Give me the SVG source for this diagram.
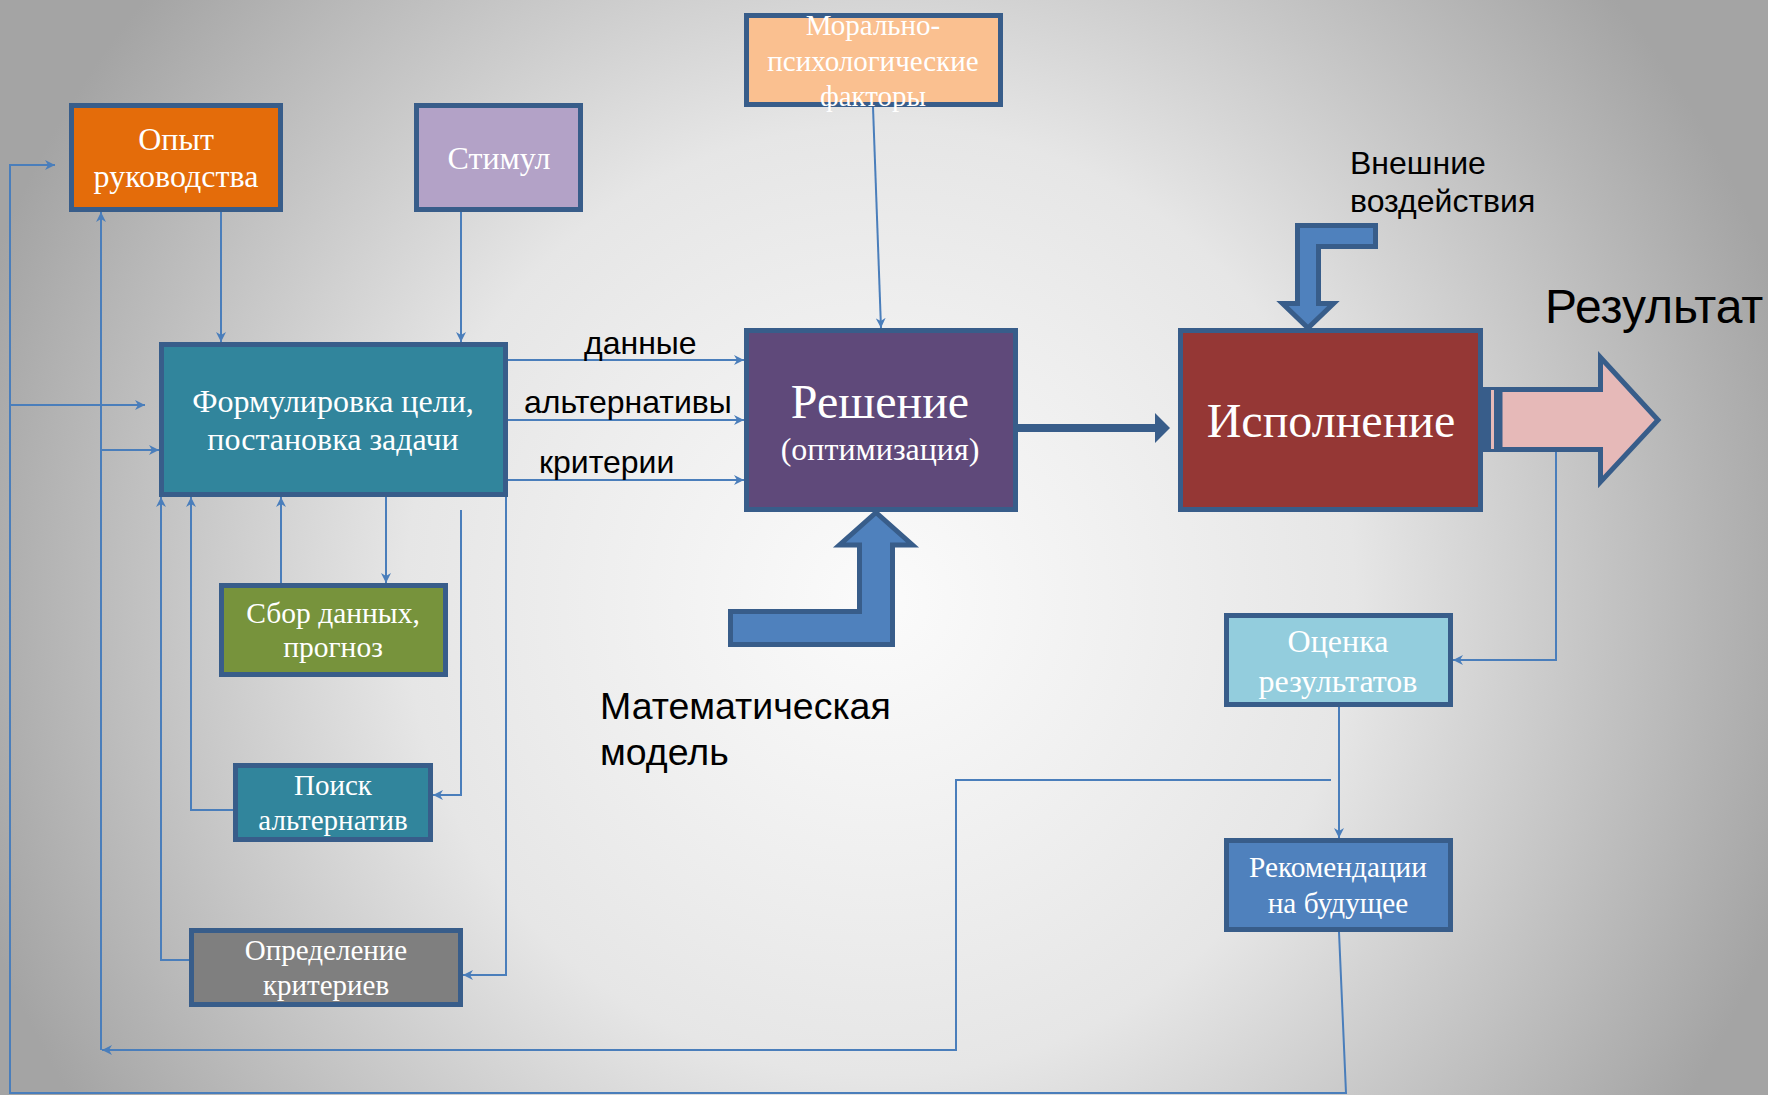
<svg xmlns="http://www.w3.org/2000/svg" width="1768" height="1095" viewBox="0 0 1768 1095">
  <defs>
    <radialGradient id="bg" gradientUnits="userSpaceOnUse" cx="880" cy="600" r="950">
      <stop offset="0" stop-color="#fbfbfb"/>
      <stop offset="0.5" stop-color="#e6e6e6"/>
      <stop offset="1" stop-color="#a4a4a4"/>
    </radialGradient>
    <marker id="arr" viewBox="0 0 10 10" refX="10" refY="5" markerWidth="10" markerHeight="10" markerUnits="userSpaceOnUse" orient="auto">
      <path d="M0,0 L10,5 L0,10 L3,5 Z" fill="#4a7ebb"/>
    </marker>
    <style>
      .box { stroke: #385d8a; stroke-width: 5; }
      .bt { font-family: "Liberation Serif", "Times New Roman", serif; fill: #ffffff; text-anchor: middle; }
      .lbl { font-family: "Liberation Sans", Arial, sans-serif; fill: #000000; }
      .cn { fill: none; stroke: #4a7ebb; stroke-width: 2; }
      .cna { fill: none; stroke: #4a7ebb; stroke-width: 2; marker-end: url(#arr); }
      .big { fill: #4f81bd; stroke: #385d8a; stroke-width: 5; stroke-linejoin: miter; }
    </style>
  </defs>

  <rect x="0" y="0" width="1768" height="1095" fill="url(#bg)"/>

  <!-- connectors -->
  <g id="connectors">
    <path class="cna" d="M221,212 V342"/>
    <path class="cna" d="M461,212 V342"/>
    <path class="cna" d="M873,107 L881,328"/>
    <path class="cna" d="M508,360 H744"/>
    <path class="cna" d="M508,420 H744"/>
    <path class="cna" d="M508,480 H744"/>
    <path class="cna" d="M386,497 V583"/>
    <path class="cna" d="M281,583 V497"/>
    <path class="cna" d="M461,510 V795 H433"/>
    <path class="cna" d="M233,810 H191 V497"/>
    <path class="cna" d="M506,497 V975 H463"/>
    <path class="cna" d="M189,960 H161 V497"/>
    <path class="cna" d="M1556,450 V660 H1453"/>
    <path class="cna" d="M1339,707 V838"/>
    <!-- feedback loop from evaluation -->
    <path class="cna" d="M1331,780 H956 V1050 H102"/>
    <path class="cna" d="M101,1050 V212"/>
    <path class="cna" d="M101,450 H159"/>
    <!-- feedback loop from recommendations -->
    <path class="cna" d="M1339,932 L1346,1093 H10 V165 H55"/>
    <path class="cna" d="M10,405 H145"/>
    <!-- decision to execution -->
    <path d="M1018,428 H1158" stroke="#385d8a" stroke-width="8" fill="none"/>
    <path d="M1155,413 L1170,428 L1155,443 Z" fill="#385d8a"/>
  </g>

  <!-- block arrows -->
  <g id="external-arrow">
    <path class="big" d="M1297.5,225.5 H1375.5 V246.5 H1318.5 V303.5 H1333.5 L1308,328 L1282.5,303.5 H1297.5 Z"/>
  </g>
  <g id="model-arrow">
    <path class="big" d="M730.5,611.5 H859.5 V545 H839.5 L876,512.5 L912.5,545 H892.5 V644.5 H730.5 Z"/>
  </g>
  <g id="result-arrow">
    <rect x="1483" y="387" width="19" height="65" fill="#385d8a"/>
    <rect x="1491" y="390" width="3" height="59" fill="#e6b9b8"/>
    <path d="M1500,389.5 H1600.5 V357.5 L1658,420 L1600.5,482 V449.5 H1500 Z" fill="#e6b9b8" stroke="#385d8a" stroke-width="5"/>
  </g>

  <!-- nodes -->
  <g id="opyt">
    <rect class="box" x="71.5" y="105.5" width="209" height="104" fill="#e46c0a"/>
    <text class="bt" x="176" y="150" font-size="32">Опыт</text>
    <text class="bt" x="176" y="187" font-size="32">руководства</text>
  </g>
  <g id="stimul">
    <rect class="box" x="416.5" y="105.5" width="164" height="104" fill="#b3a2c7"/>
    <text class="bt" x="499" y="169" font-size="32">Стимул</text>
  </g>
  <g id="moral">
    <rect class="box" x="746.5" y="15.5" width="254" height="89" fill="#fac090"/>
    <text class="bt" x="873" y="35" font-size="29">Морально-</text>
    <text class="bt" x="873" y="71" font-size="29">психологические</text>
    <text class="bt" x="873" y="106" font-size="29">факторы</text>
  </g>
  <g id="formulirovka">
    <rect class="box" x="161.5" y="344.5" width="344" height="150" fill="#31859c"/>
    <text class="bt" x="333" y="412" font-size="32">Формулировка цели,</text>
    <text class="bt" x="333" y="450" font-size="32">постановка задачи</text>
  </g>
  <g id="reshenie">
    <rect class="box" x="746.5" y="330.5" width="269" height="179" fill="#5f497a"/>
    <text class="bt" x="880" y="418" font-size="48">Решение</text>
    <text class="bt" x="880" y="460" font-size="32">(оптимизация)</text>
  </g>
  <g id="ispolnenie">
    <rect class="box" x="1180.5" y="330.5" width="300" height="179" fill="#953735"/>
    <text class="bt" x="1331" y="437" font-size="48">Исполнение</text>
  </g>
  <g id="sbor">
    <rect class="box" x="221.5" y="585.5" width="224" height="89" fill="#77933c"/>
    <text class="bt" x="333" y="623" font-size="29.5">Сбор данных,</text>
    <text class="bt" x="333" y="657" font-size="29.5">прогноз</text>
  </g>
  <g id="poisk">
    <rect class="box" x="235.5" y="765.5" width="195" height="74" fill="#31859c"/>
    <text class="bt" x="333" y="795" font-size="29">Поиск</text>
    <text class="bt" x="333" y="830" font-size="29">альтернатив</text>
  </g>
  <g id="opredelenie">
    <rect class="box" x="191.5" y="930.5" width="269" height="74" fill="#7f7f7f"/>
    <text class="bt" x="326" y="960" font-size="29">Определение</text>
    <text class="bt" x="326" y="995" font-size="29">критериев</text>
  </g>
  <g id="ocenka">
    <rect class="box" x="1226.5" y="615.5" width="224" height="89" fill="#93cddd"/>
    <text class="bt" x="1338" y="652" font-size="32">Оценка</text>
    <text class="bt" x="1338" y="692" font-size="32">результатов</text>
  </g>
  <g id="rekomendacii">
    <rect class="box" x="1226.5" y="840.5" width="224" height="89" fill="#4f81bd"/>
    <text class="bt" x="1338" y="877" font-size="29.3">Рекомендации</text>
    <text class="bt" x="1338" y="913" font-size="29.3">на будущее</text>
  </g>

  <!-- free labels -->
  <g id="labels">
    <text class="lbl" x="584" y="354" font-size="32">данные</text>
    <text class="lbl" x="524" y="413" font-size="32">альтернативы</text>
    <text class="lbl" x="539" y="473" font-size="32">критерии</text>
    <text class="lbl" x="1545" y="323" font-size="48">Результат</text>
    <text class="lbl" x="1350" y="174" font-size="32">Внешние</text>
    <text class="lbl" x="1350" y="212" font-size="32">воздействия</text>
    <text class="lbl" x="600" y="719" font-size="37.5">Математическая</text>
    <text class="lbl" x="600" y="765" font-size="37.5">модель</text>
  </g>
</svg>
